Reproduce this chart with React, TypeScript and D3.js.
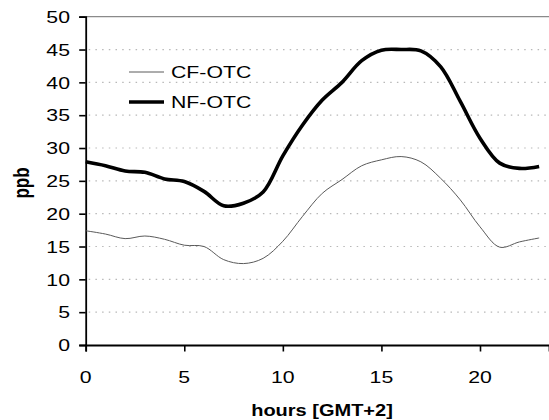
import React, { useEffect, useRef } from 'react';
import * as d3 from 'd3';

// hours of the day
const hours = [0, 1, 2, 3, 4, 5, 6, 7, 8, 9, 10, 11, 12, 13, 14, 15, 16, 17, 18, 19, 20, 21, 22, 23];

// ppb values
const cfOtc = [17.4, 16.9, 16.2, 16.6, 16.1, 15.2, 15.0, 13.0, 12.4, 13.2, 15.8, 19.6, 23.1, 25.2, 27.3, 28.2, 28.7, 27.9, 25.4, 22.1, 18.0, 14.9, 15.7, 16.3];
const nfOtc = [27.9, 27.3, 26.5, 26.3, 25.3, 24.9, 23.4, 21.2, 21.6, 23.3, 28.8, 33.5, 37.3, 40.0, 43.3, 44.9, 45.0, 44.8, 42.4, 37.1, 31.5, 27.7, 26.9, 27.2];

const yTicks = [0, 5, 10, 15, 20, 25, 30, 35, 40, 45, 50];
const xTicks = [0, 5, 10, 15, 20];

const seriesNames = ['CF-OTC', 'NF-OTC'];

const App: React.FC = () => {
  const svgRef = useRef<SVGSVGElement>(null);

  useEffect(() => {
    if (!svgRef.current) return;
    const svg = d3.select(svgRef.current);
    svg.selectAll('*').remove();

    const W = 549;
    const H = 420;
    const left = 85.7;
    const top = 16.7;
    const bottom = 345;
    const font = 'Arial, "Liberation Sans", Helvetica, sans-serif';
    const stretch = 1.25;

    const x = d3.scaleLinear().domain([0, 23.5]).range([left, W]);
    const y = d3.scaleLinear().domain([0, 50]).range([bottom, top]);

    // text is drawn slightly wider than tall, like the source image
    const addText = (tx: number, ty: number, str: string, anchor: string, size: number, weight = 'normal', rotate = 0) => {
      const sc = rotate ? `scale(1,${stretch})` : `scale(${stretch},1)`;
      svg.append('text')
        .attr('transform', `translate(${tx},${ty}) rotate(${rotate}) ${sc}`)
        .attr('text-anchor', anchor)
        .attr('font-family', font)
        .attr('font-size', size)
        .attr('font-weight', weight)
        .attr('fill', '#000')
        .text(str);
    };

    // gridlines (dotted)
    svg.append('g')
      .selectAll('line')
      .data(yTicks.filter(d => d > 0 && d < 50))
      .enter()
      .append('line')
      .attr('x1', left + 3)
      .attr('x2', W)
      .attr('y1', d => y(d))
      .attr('y2', d => y(d))
      .attr('stroke', '#b8b8b8')
      .attr('stroke-width', 1.2)
      .attr('stroke-dasharray', '1.5,5.2');

    // top border
    svg.append('line')
      .attr('x1', left)
      .attr('x2', W)
      .attr('y1', y(50))
      .attr('y2', y(50))
      .attr('stroke', '#8a8a8a')
      .attr('stroke-width', 1.2);

    // axes
    const yAxis = svg.append('g')
      .attr('transform', `translate(${left},0)`)
      .call(d3.axisLeft(y).tickValues(yTicks).tickSize(6.5).tickFormat(() => ''));
    const xAxis = svg.append('g')
      .attr('transform', `translate(0,${bottom})`)
      .call(d3.axisBottom(x).tickValues(xTicks).tickSize(6.5).tickFormat(() => ''));
    [yAxis, xAxis].forEach(g => {
      g.selectAll('path, line').attr('stroke', '#000').attr('stroke-width', 1.6);
      g.select('.domain').attr('stroke-width', 1.8);
    });

    // tick labels
    yTicks.forEach(t => addText(70, y(t) + 6.2, String(t), 'end', 17));
    xTicks.forEach(t => addText(x(t), 383, String(t), 'middle', 17));

    // axis titles
    addText(322, 415.5, 'hours [GMT+2]', 'middle', 16, 'bold');
    addText(29, 183, 'ppb', 'middle', 17, 'bold', -90);

    // lines
    const line = d3.line<number>()
      .x((_, i) => x(hours[i]))
      .y(d => y(d))
      .curve(d3.curveCatmullRom.alpha(0.5));

    svg.append('path')
      .attr('d', line(cfOtc))
      .attr('fill', 'none')
      .attr('stroke', '#5a5a5a')
      .attr('stroke-width', 1);

    svg.append('path')
      .attr('d', line(nfOtc))
      .attr('fill', 'none')
      .attr('stroke', '#000')
      .attr('stroke-width', 3.6)
      .attr('stroke-linejoin', 'round');

    // legend
    const legend = [
      { name: seriesNames[0], yy: 72, color: '#5a5a5a', w: 1 },
      { name: seriesNames[1], yy: 102, color: '#000', w: 3.6 },
    ];
    legend.forEach(l => {
      svg.append('line')
        .attr('x1', 129)
        .attr('x2', 164)
        .attr('y1', l.yy)
        .attr('y2', l.yy)
        .attr('stroke', l.color)
        .attr('stroke-width', l.w);
      addText(171, l.yy + 6.2, l.name, 'start', 17);
    });

    svg.attr('width', W).attr('height', H);
  }, []);

  return (
    <div style={{ position: 'absolute', left: 0, top: 0, background: '#fff' }}>
      <svg ref={svgRef} width={549} height={420} style={{ display: 'block' }} />
    </div>
  );
};

export default App;
